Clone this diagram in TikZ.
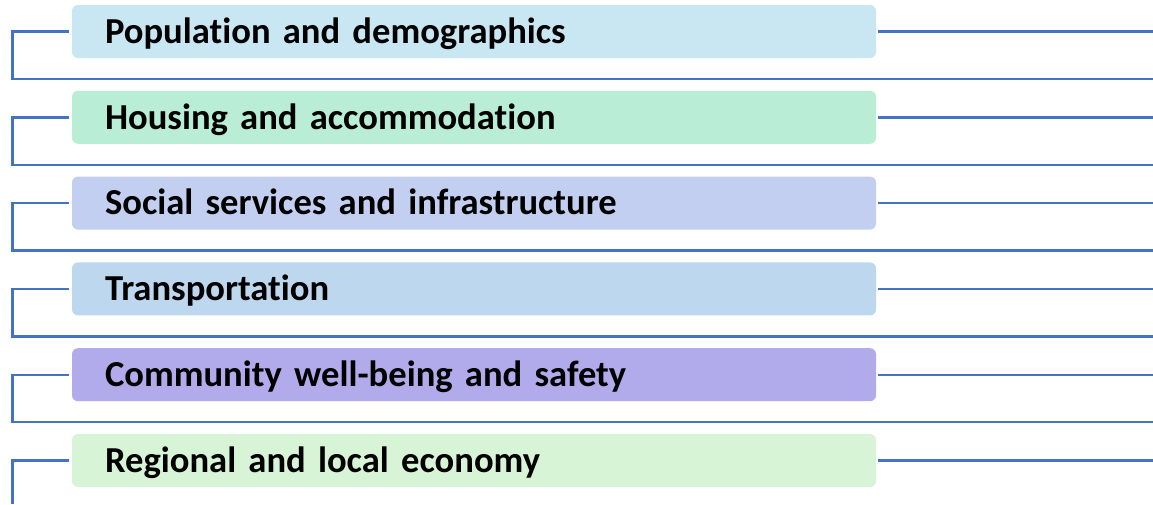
\documentclass[tikz,border=0pt]{standalone}
\usepackage{fontspec}
\setmainfont[Ligatures=NoCommon]{Carlito}
\usetikzlibrary{positioning}

\definecolor{linkblue}{HTML}{4472C4}
\definecolor{popblue}{HTML}{C8E7F2}
\definecolor{housegreen}{HTML}{B9EDD5}
\definecolor{socialblue}{HTML}{C3CFF0}
\definecolor{transblue}{HTML}{BDD7EE}
\definecolor{commpurple}{HTML}{B1ABEC}
\definecolor{econgreen}{HTML}{D8F4D6}

\begin{document}
\begin{tikzpicture}[x=1pt, y=-1pt,
  topic/.style={rounded corners=6pt, minimum width=804pt,
    text height=38.3pt, text depth=14.7pt,
    text width=738pt, inner xsep=33pt, inner ysep=0pt, align=left,
    font=\bfseries\fontsize{36.6}{40}\selectfont},
  link/.style={draw=linkblue, line width=2.4pt}]
\useasboundingbox (0,0) rectangle (1153,504);
\def\railx{12.5}
\def\rightx{1153}
\def\gap{85.8}

\foreach \name/\col/\txt [count=\i from 0] in {
    pop/popblue/Population and demographics,
    house/housegreen/Housing and accommodation,
    social/socialblue/Social services and infrastructure,
    trans/transblue/Transportation,
    comm/commpurple/Community well-being and safety,
    econ/econgreen/Regional and local economy} {
  \pgfmathsetmacro{\midy}{31.5+\i*\gap}
  \pgfmathsetmacro{\lowy}{ifthenelse(\i<5, \midy+47.5, 504)}
  \node[topic, fill=\col] (\name) at (474,\midy) {\txt};
  \coordinate (\name-l) at (\railx,\midy);
  \coordinate (\name-r) at (\rightx,\midy);
  \coordinate (\name-b) at (\railx,\lowy);
  \coordinate (\name-br) at (\rightx,\lowy);
  % branch out to the right
  \draw[link] ([xshift=2pt]\name.east) -- (\name-r);
  % rail on the left
  \ifnum\i<5
    \draw[link] ([xshift=-3pt]\name.west) -- (\name-l) -- (\name-b) -- (\name-br);
  \else
    \draw[link] ([xshift=-3pt]\name.west) -- (\name-l) -- (\name-b);
  \fi
}
\end{tikzpicture}
\end{document}
